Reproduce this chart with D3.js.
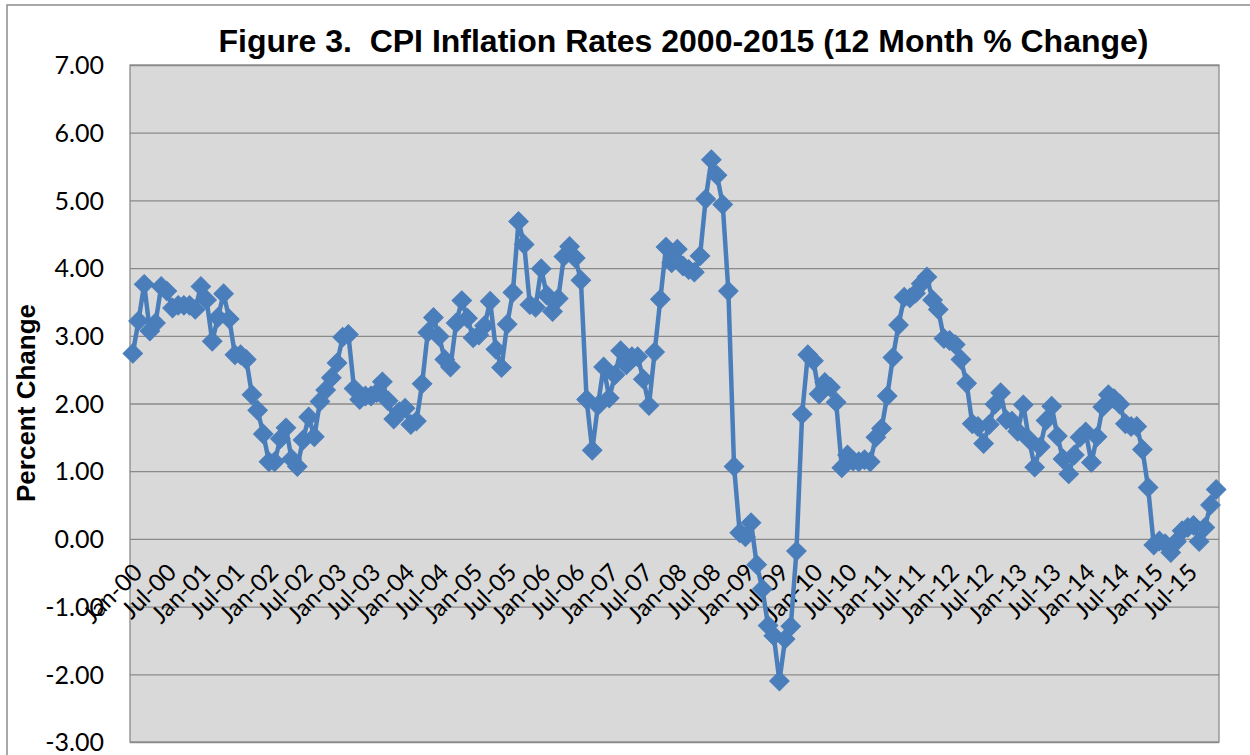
<!DOCTYPE html>
<html>
<head>
<meta charset="utf-8">
<script src="https://cdn.jsdelivr.net/npm/d3@7"></script>
<style>
  html, body { margin: 0; padding: 0; background: #ffffff; }
  svg { display: block; }
</style>
</head>
<body>
<svg id="chart" width="1250" height="755"></svg>
<script>
// ---------- DATA ----------
const years = ["00","01","02","03","04","05","06","07","08","09","10","11","12","13","14","15"];
const monthNames = ["Jan","Feb","Mar","Apr","May","Jun","Jul","Aug","Sep","Oct","Nov","Dec"];
const cpi2000 = [2.74, 3.22, 3.76, 3.07, 3.19, 3.73, 3.66, 3.41, 3.45, 3.45, 3.45, 3.39];
const cpi2001 = [3.73, 3.53, 2.92, 3.27, 3.62, 3.25, 2.72, 2.72, 2.65, 2.13, 1.90, 1.55];
const cpi2002 = [1.14, 1.14, 1.48, 1.64, 1.18, 1.07, 1.46, 1.80, 1.51, 2.03, 2.20, 2.38];
const cpi2003 = [2.60, 2.98, 3.02, 2.22, 2.06, 2.11, 2.11, 2.16, 2.32, 2.04, 1.77, 1.88];
const cpi2004 = [1.93, 1.69, 1.74, 2.29, 3.05, 3.27, 2.99, 2.65, 2.54, 3.19, 3.52, 3.26];
const cpi2005 = [2.97, 3.01, 3.15, 3.51, 2.80, 2.53, 3.17, 3.64, 4.69, 4.35, 3.46, 3.42];
const cpi2006 = [3.99, 3.60, 3.36, 3.55, 4.17, 4.32, 4.15, 3.82, 2.06, 1.31, 1.97, 2.54];
const cpi2007 = [2.08, 2.42, 2.78, 2.57, 2.69, 2.69, 2.36, 1.97, 2.76, 3.54, 4.31, 4.08];
const cpi2008 = [4.28, 4.03, 3.98, 3.94, 4.18, 5.02, 5.60, 5.37, 4.94, 3.66, 1.07, 0.09];
const cpi2009 = [0.03, 0.24, -0.38, -0.74, -1.28, -1.43, -2.10, -1.48, -1.29, -0.18, 1.84, 2.72];
const cpi2010 = [2.63, 2.14, 2.31, 2.24, 2.02, 1.05, 1.24, 1.15, 1.14, 1.17, 1.14, 1.50];
const cpi2011 = [1.63, 2.11, 2.68, 3.16, 3.57, 3.56, 3.63, 3.77, 3.87, 3.53, 3.39, 2.96];
const cpi2012 = [2.93, 2.87, 2.65, 2.30, 1.70, 1.66, 1.41, 1.69, 1.99, 2.16, 1.76, 1.74];
const cpi2013 = [1.59, 1.98, 1.47, 1.06, 1.36, 1.75, 1.96, 1.52, 1.18, 0.96, 1.24, 1.50];
const cpi2014 = [1.58, 1.13, 1.51, 1.95, 2.13, 2.07, 1.99, 1.70, 1.66, 1.66, 1.32, 0.76];
const cpi2015 = [-0.09, -0.03, -0.07, -0.20, -0.04, 0.12, 0.17, 0.20, -0.04, 0.17, 0.50, 0.73];
const yTicks = [7, 6, 5, 4, 3, 2, 1, 0, -1, -2, -3];
const titleText = "Figure 3.  CPI Inflation Rates 2000-2015 (12 Month % Change)";
const yTitle = "Percent Change";

// ---------- BUILD TABLE ----------
const yearly = [cpi2000, cpi2001, cpi2002, cpi2003, cpi2004, cpi2005, cpi2006, cpi2007,
                cpi2008, cpi2009, cpi2010, cpi2011, cpi2012, cpi2013, cpi2014, cpi2015];
const data = [];
yearly.forEach((arr, yi) => arr.forEach((v, mi) => {
  data.push({ label: monthNames[mi] + "-" + years[yi], value: v, month: mi });
}));
const categories = data.map(d => d.label);
const tickLabels = data.filter(d => d.month === 0 || d.month === 6).map(d => d.label);

// ---------- LAYOUT ----------
const svg = d3.select("#chart");
const plot = { left: 130, top: 65, right: 1219, bottom: 742 };

const x = d3.scaleBand().domain(categories).range([plot.left, plot.right]).padding(0);
const cx = d => x(d) + x.bandwidth() / 2;
const y = d3.scaleLinear().domain([-3, 7]).range([plot.bottom, plot.top]);

const gridColor = "#8a8a8a";
const lineColor = "#4A7EBB";

// outer chart border
svg.append("rect")
  .attr("x", 7).attr("y", 5).attr("width", 1400).attr("height", 900)
  .attr("fill", "#ffffff").attr("stroke", "#8c8c8c").attr("stroke-width", 1.5);

// plot background
svg.append("rect")
  .attr("x", plot.left).attr("y", plot.top)
  .attr("width", plot.right - plot.left).attr("height", plot.bottom - plot.top)
  .attr("fill", "#D9D9D9").attr("stroke", gridColor).attr("stroke-width", 1.3);

// gridlines + y tick labels
const fmt = v => v.toFixed(2);
const yAxis = d3.axisLeft(y).tickValues(yTicks).tickSize(-(plot.right - plot.left)).tickFormat(fmt);
const gy = svg.append("g").attr("transform", `translate(${plot.left},0)`).call(yAxis);
gy.select(".domain").remove();
gy.selectAll(".tick line").attr("stroke", gridColor).attr("stroke-width", 1.3);
gy.selectAll(".tick text")
  .attr("x", -26).attr("dy", "0.35em")
  .style("font-family", "Lato, 'Open Sans', sans-serif")
  .style("font-size", "25px").attr("fill", "#000");

// x axis labels (category axis crossing at 0)
const xAxis = d3.axisBottom(x).tickValues(tickLabels).tickSize(0);
const gx = svg.append("g").attr("transform", `translate(0,${y(0)})`).call(xAxis);
gx.select(".domain").remove();
gx.selectAll(".tick text")
  .attr("text-anchor", "end")
  .attr("transform", "translate(11,35) rotate(-45)")
  .attr("y", 0).attr("dy", 0)
  .style("font-family", "Lato, 'Open Sans', sans-serif")
  .style("font-size", "24px").attr("fill", "#000");

// line
const line = d3.line().x(d => cx(d.label)).y(d => y(d.value));
svg.append("path").datum(data)
  .attr("d", line).attr("fill", "none")
  .attr("stroke", lineColor).attr("stroke-width", 4.5).attr("stroke-linejoin", "round");

// markers
const diamond = d3.symbol().type(d3.symbolSquare).size(190);
svg.append("g").selectAll("path").data(data).join("path")
  .attr("d", diamond)
  .attr("transform", d => `translate(${cx(d.label)},${y(d.value)}) rotate(45)`)
  .attr("fill", lineColor).attr("stroke", lineColor).attr("stroke-width", 1);

// title
svg.append("text")
  .attr("x", 683.5).attr("y", 52).attr("text-anchor", "middle")
  .attr("xml:space", "preserve").style("white-space", "pre")
  .style("font-family", "'Liberation Sans', Arial, sans-serif")
  .style("font-weight", "bold").style("font-size", "32px")
  .text(titleText);

// y title
svg.append("text")
  .attr("transform", "translate(35,403) rotate(-90)")
  .attr("text-anchor", "middle")
  .style("font-family", "'Liberation Sans', Arial, sans-serif")
  .style("font-weight", "bold").style("font-size", "26px")
  .text(yTitle);
</script>
</body>
</html>
